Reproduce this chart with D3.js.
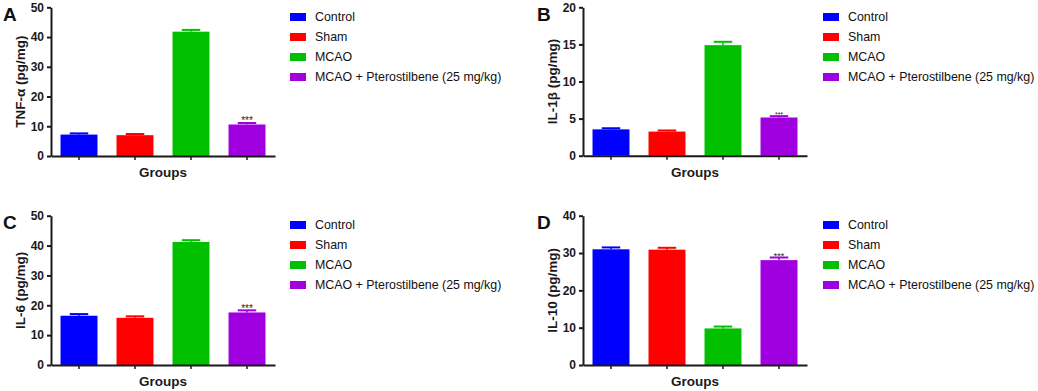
<!DOCTYPE html>
<html><head><meta charset="utf-8">
<script src="https://cdn.jsdelivr.net/npm/d3@7"></script>
<style>
html,body{margin:0;padding:0;background:#fff;}
svg{display:block;font-family:"Liberation Sans",Arial,sans-serif;}
</style></head>
<body><svg id="c" width="1038" height="391"></svg>
<script>
const groups = ["Control", "Sham", "MCAO", "MCAO + Pterostilbene (25 mg/kg)"];
const colors = ["#0000ff", "#ff0000", "#00c000", "#a000e0"];

const tnfMean = [7.2, 7.0, 41.8, 10.6];
const tnfErr  = [0.4, 0.4, 0.6, 0.5];
const il1Mean = [3.55, 3.25, 14.9, 5.15];
const il1Err  = [0.15, 0.15, 0.45, 0.18];
const il6Mean = [16.5, 15.8, 41.2, 17.6];
const il6Err  = [0.55, 0.5, 0.6, 0.7];
const il10Mean = [31.0, 30.9, 9.8, 28.1];
const il10Err  = [0.5, 0.5, 0.5, 0.7];

const tnfTicks = [0, 10, 20, 30, 40, 50];
const il1Ticks = [0, 5, 10, 15, 20];
const il6Ticks = [0, 10, 20, 30, 40, 50];
const il10Ticks = [0, 10, 20, 30, 40];

const sigIndex = 3;
const sigLabel = "***";

const panels = [
  {letter:"A", title:"TNF-α (pg/mg)", mean:tnfMean, err:tnfErr, ticks:tnfTicks, x0:51, top:7.3, bottom:156, lx:290, ly:17, starSize:10},
  {letter:"B", title:"IL-1β (pg/mg)", mean:il1Mean, err:il1Err, ticks:il1Ticks, x0:583, top:7.3, bottom:155.7, lx:823, ly:17, starSize:7},
  {letter:"C", title:"IL-6 (pg/mg)", mean:il6Mean, err:il6Err, ticks:il6Ticks, x0:51, top:215.7, bottom:365, lx:290, ly:225, starSize:10},
  {letter:"D", title:"IL-10 (pg/mg)", mean:il10Mean, err:il10Err, ticks:il10Ticks, x0:583, top:215.7, bottom:365, lx:823, ly:225, starSize:9}
];

const svg = d3.select("#c");
const axisColor = "#1a1a1a";

panels.forEach(p => {
  const g = svg.append("g");
  const y = d3.scaleLinear().domain([p.ticks[0], p.ticks[p.ticks.length-1]]).range([p.bottom, p.top]);
  const x = d3.scaleBand().domain(groups).range([p.x0, p.x0 + 224]).paddingInner(0.34).paddingOuter(0.17);

  g.selectAll("rect.bar").data(groups).enter().append("rect")
    .attr("x", d => x(d)).attr("width", x.bandwidth())
    .attr("y", (d,i) => y(p.mean[i])).attr("height", (d,i) => y(0) - y(p.mean[i]))
    .attr("fill", (d,i) => colors[i]);

  groups.forEach((d,i) => {
    const cx = x(d) + x.bandwidth()/2;
    const capW = x.bandwidth()*0.25;
    g.append("line").attr("x1", cx).attr("x2", cx)
      .attr("y1", y(p.mean[i])).attr("y2", y(p.mean[i] + p.err[i]))
      .attr("stroke", colors[i]).attr("stroke-width", 1.5);
    g.append("line").attr("x1", cx - capW).attr("x2", cx + capW)
      .attr("y1", y(p.mean[i] + p.err[i])).attr("y2", y(p.mean[i] + p.err[i]))
      .attr("stroke", colors[i]).attr("stroke-width", 2);
  });

  const sg = groups[sigIndex];
  g.append("text")
    .attr("x", x(sg) + x.bandwidth()/2)
    .attr("y", y(p.mean[sigIndex] + p.err[sigIndex]) - 1 + p.starSize*0.25)
    .attr("text-anchor", "middle").attr("font-size", p.starSize).attr("fill", "#222")
    .text(sigLabel);

  const ya = g.append("g").attr("transform", `translate(${p.x0},0)`)
    .call(d3.axisLeft(y).tickValues(p.ticks).tickSize(4).tickSizeOuter(0).tickPadding(3));
  ya.select(".domain").attr("stroke", axisColor).attr("stroke-width", 2);
  ya.selectAll(".tick line").attr("stroke", axisColor).attr("stroke-width", 2);
  ya.selectAll(".tick text").attr("font-size", 12).attr("font-weight", "bold")
    .attr("fill", axisColor).attr("font-family", "Liberation Sans, Arial, sans-serif");

  const xa = g.append("g").attr("transform", `translate(0,${p.bottom})`)
    .call(d3.axisBottom(x).tickSize(4).tickSizeOuter(0).tickFormat(""));
  xa.select(".domain").attr("stroke", axisColor).attr("stroke-width", 2);
  xa.selectAll(".tick line").attr("stroke", axisColor).attr("stroke-width", 1.5);

  g.append("text").attr("x", p.x0 + 112).attr("y", p.bottom + 21)
    .attr("text-anchor", "middle").attr("font-size", 13.5).attr("font-weight", "bold")
    .attr("fill", axisColor).text("Groups");
  const cy = (p.top + p.bottom)/2;
  g.append("text").attr("transform", `translate(${p.x0 - 31},${cy}) rotate(-90)`)
    .attr("text-anchor", "middle").attr("dy", "0.35em").attr("font-size", 13.5).attr("font-weight", "bold")
    .attr("fill", axisColor).text(p.title);

  g.append("text").attr("x", p.x0 - 48 + (p.x0 > 100 ? 2 : 0)).attr("y", p.top + 13.5)
    .attr("font-size", 19).attr("font-weight", "bold").attr("fill", "#111").text(p.letter);

  const lg = g.append("g");
  groups.forEach((d,i) => {
    lg.append("rect").attr("x", p.lx).attr("y", p.ly + i*20 - 4).attr("width", 16).attr("height", 8)
      .attr("fill", colors[i]);
    lg.append("text").attr("x", p.lx + 25).attr("y", p.ly + i*20).attr("dy", "0.35em")
      .attr("font-size", 12.4).attr("fill", "#111").text(d);
  });
});
</script>
</body></html>
